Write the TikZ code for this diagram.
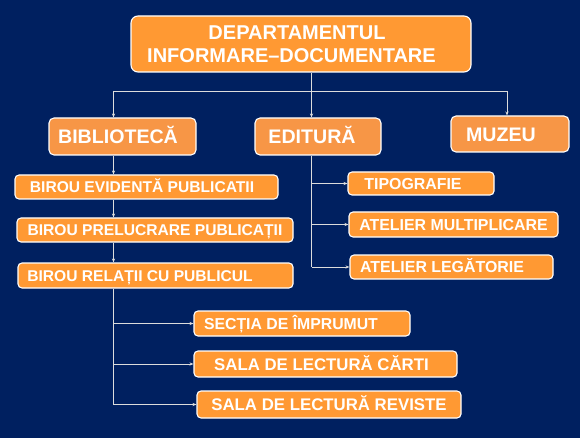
\documentclass[tikz,border=0pt]{standalone}
\usepackage{fontspec}
\setmainfont{Liberation Sans}
\usetikzlibrary{arrows.meta}
\definecolor{navy}{RGB}{0,32,96}
\definecolor{orA}{RGB}{255,153,51}
\definecolor{orB}{RGB}{247,150,70}
\definecolor{lnc}{RGB}{220,220,220}
\tikzset{
  boxA/.style={draw=white, line width=1.1pt, fill=orA, rounded corners=4pt, inner sep=0pt,
    text=white, text depth=0pt},
  boxB/.style={boxA, fill=orB, rounded corners=5pt},
  fs/.style={font=\bfseries\fontsize{#1}{#1}\selectfont, text height={#1pt*0.716}},
  ln/.style={draw=lnc, line width=0.8pt},
  arr/.style={ln, -{Stealth[length=4pt,width=3.2pt]}}
}
\begin{document}
\begin{tikzpicture}[x=1pt,y=-1pt]
\fill[navy] (0,0) rectangle (580,438);
\useasboundingbox (0,0) rectangle (580,438);

\node[draw=white, line width=1.1pt, fill=orA, rounded corners=7pt, inner sep=0pt, text=white,
  font=\bfseries\fontsize{20}{23}\selectfont, align=center,
  minimum width=340pt, minimum height=56pt] (top) at (301,44)
  {DEPARTAMENTUL\hspace*{8pt}\\INFORMARE–DOCUMENTARE\hspace*{19pt}};

\node[boxB, fs=19.6, minimum width=147pt, minimum height=37pt] (bib) at (122.5,136.5) {BIBLIOTECĂ\hspace*{9pt}};
\node[boxB, fs=19.6, minimum width=126pt, minimum height=37pt] (edit) at (318,136.5) {EDITURĂ\hspace*{12pt}};
\node[boxB, fs=19.6, minimum width=118pt, minimum height=36pt] (muz) at (510,134) {MUZEU\hspace*{18pt}};

\node[boxA, fs=15.6, minimum width=263pt, minimum height=24pt] (b1) at (146.5,187) {BIROU EVIDENTĂ PUBLICATII\hspace*{9pt}};
\node[boxA, fs=15.6, minimum width=276pt, minimum height=24pt] (b2) at (155,230) {BIROU PRELUCRARE PUBLICAȚII};
\node[boxA, fs=15.6, minimum width=275pt, minimum height=25pt] (b3) at (155.5,275.5) {BIROU RELAȚII CU PUBLICUL\hspace*{31pt}};

\node[boxA, fs=15.9, minimum width=146pt, minimum height=23pt] (t1) at (421,183.5) {TIPOGRAFIE\hspace*{16pt}};
\node[boxA, fs=15.9, minimum width=209pt, minimum height=25pt] (t2) at (453.5,224.5) {ATELIER MULTIPLICARE};
\node[boxA, fs=15.9, minimum width=203pt, minimum height=24pt] (t3) at (451.5,267) {ATELIER LEGĂTORIE\hspace*{19pt}};

\node[boxA, fs=15.8, minimum width=216pt, minimum height=25pt] (s1) at (302,323.5) {SECȚIA DE ÎMPRUMUT\hspace*{22pt}};
\node[boxA, fs=16.8, minimum width=263pt, minimum height=26pt] (s2) at (325.5,364) {SALA DE LECTURĂ CĂRTI\hspace*{8pt}};
\node[boxA, fs=16.8, minimum width=264pt, minimum height=27pt] (s3) at (329,404.5) {SALA DE LECTURĂ REVISTE};

\coordinate (xE) at (311.5,0);
\coordinate (xB) at (113.5,0);
\coordinate (xM) at (507,0);
\coordinate (bus) at (0,91);

\draw[ln] (top.south -| xE) -- (bus -| xE);
\draw[ln] (bus -| xB) -- (bus -| xM);
\draw[arr] (bus -| xB) -- (bib.north -| xB);
\draw[arr] (bus -| xE) -- (edit.north -| xE);
\draw[arr] (bus -| xM) -- (muz.north -| xM);

\draw[arr] (bib.south -| xB) -- (b1.north -| xB);
\draw[arr] (b1.south -| xB) -- (b2.north -| xB);
\draw[arr] (b2.south -| xB) -- (b3.north -| xB);

\draw[ln] (b3.south -| xB) -- (s3.west -| xB);
\draw[arr] (s1.west -| xB) -- (s1.west);
\draw[arr] (s2.west -| xB) -- (s2.west);
\draw[arr] (s3.west -| xB) -- (s3.west);

\draw[ln] (edit.south -| xE) -- (t3.west -| xE);
\draw[arr] (t1.west -| xE) -- (t1.west);
\draw[arr] (t2.west -| xE) -- (t2.west);
\draw[arr] (t3.west -| xE) -- (t3.west);
\end{tikzpicture}
\end{document}
